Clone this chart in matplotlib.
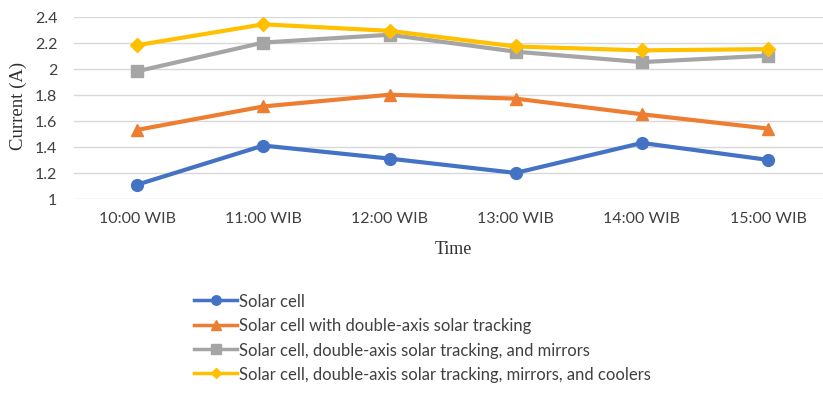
import matplotlib
matplotlib.use("Agg")
import matplotlib.pyplot as plt
from matplotlib.lines import Line2D

times = ["10:00 WIB", "11:00 WIB", "12:00 WIB", "13:00 WIB", "14:00 WIB", "15:00 WIB"]
solar_cell = [1.11, 1.41, 1.31, 1.20, 1.43, 1.30]
with_tracking = [1.53, 1.71, 1.80, 1.77, 1.65, 1.54]
tracking_mirrors = [1.98, 2.20, 2.26, 2.13, 2.05, 2.10]
tracking_mirrors_coolers = [2.18, 2.34, 2.29, 2.17, 2.14, 2.15]

series_labels = [
    "Solar cell",
    "Solar cell with double-axis solar tracking",
    "Solar cell, double-axis solar tracking, and mirrors",
    "Solar cell, double-axis solar tracking, mirrors, and coolers",
]
series = [solar_cell, with_tracking, tracking_mirrors, tracking_mirrors_coolers]
colors = ["#4472C4", "#ED7D31", "#A5A5A5", "#FFC000"]
markers = ["o", "^", "s", "D"]
msizes = [8.5, 8.5, 8.5, 7]

sans = ["Lato", "DejaVu Sans"]
serif = ["Liberation Serif", "DejaVu Serif"]

fig = plt.figure(figsize=(8.23, 4.10), dpi=100)
ax = fig.add_axes([74 / 823, 1 - 200 / 410, (823 - 74) / 823, 182.5 / 410])

x = list(range(len(times)))
for vals, c, m, ms in zip(series, colors, markers, msizes):
    ax.plot(x, vals, color=c, lw=3, marker=m, markersize=ms,
            markeredgecolor=c, solid_capstyle="round", zorder=3)

ax.set_ylim(1, 2.4)
ax.set_yticks([1, 1.2, 1.4, 1.6, 1.8, 2, 2.2, 2.4])
ax.set_yticklabels(["1", "1.2", "1.4", "1.6", "1.8", "2", "2.2", "2.4"],
                   family=sans, fontsize=11.5, color="#404040")
ax.set_xlim(-0.5, -0.5 + (823 - 74) / 126.2)
ax.set_xticks(x)
ax.set_xticklabels(times, family=sans, fontsize=11.5, color="#404040")
ax.tick_params(length=0, pad=9)
ax.tick_params(axis="y", pad=12)
ax.grid(axis="y", color="#D9D9D9", lw=1)
ax.set_axisbelow(True)
for s in ax.spines.values():
    s.set_visible(False)

fig.text(453 / 823, 1 - 250 / 410, "Time", family=serif, fontsize=13,
         ha="center", va="center", color="#303030")
fig.text(18 / 823, 1 - 106 / 410, "Current (A)", family=serif, fontsize=13.5,
         ha="center", va="center", rotation=90, color="#303030")

handles = [Line2D([], [], color=c, lw=2.5, marker=m, markersize=ms * 0.8,
                  markeredgecolor=c)
           for c, m, ms in zip(colors, markers, msizes)]
leg = fig.legend(handles, series_labels, loc="upper left",
                 bbox_to_anchor=(194 / 823, 1 - 294 / 410),
                 frameon=False, prop={"family": sans, "size": 12},
                 handlelength=2.6, handletextpad=0.1, labelspacing=0.5,
                 borderaxespad=0, borderpad=0)
for t in leg.get_texts():
    t.set_color("#404040")

fig.savefig("out.png", dpi=100)
